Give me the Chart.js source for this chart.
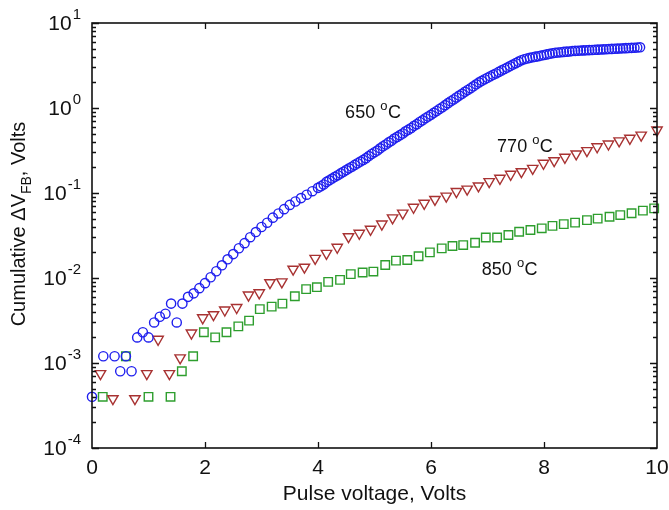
<!DOCTYPE html>
<html>
<head>
<meta charset="utf-8">
<script src="https://cdn.jsdelivr.net/npm/chart.js@4.4.1/dist/chart.umd.min.js"></script>
<style>
  html, body { margin: 0; padding: 0; background: #fff; }
  #wrap { width: 669px; height: 510px; position: relative; }
</style>
</head>
<body>
<div id="wrap"><canvas id="chart"></canvas></div>
<script>
'use strict';

// 650 C series (blue circles)
var blueX = [0, 0.2, 0.4, 0.5, 0.6, 0.7, 0.8, 0.9, 1.0, 1.1, 1.2, 1.3, 1.4, 1.5, 1.6, 1.7, 1.8, 1.9, 2.0,
    2.1, 2.2, 2.3, 2.4, 2.5, 2.6, 2.7, 2.8, 2.9, 3.0, 3.1, 3.2, 3.3, 3.4, 3.5, 3.6, 3.7, 3.8, 3.9, 4.0,
    4.05, 4.1, 4.15, 4.2, 4.25, 4.3, 4.35, 4.4, 4.45, 4.5, 4.55, 4.6, 4.65, 4.7, 4.75, 4.8, 4.85, 4.9, 4.95, 5.0,
    5.05, 5.1, 5.15, 5.2, 5.25, 5.3, 5.35, 5.4, 5.45, 5.5, 5.55, 5.6, 5.65, 5.7, 5.75, 5.8, 5.85, 5.9, 5.95, 6.0,
    6.05, 6.1, 6.15, 6.2, 6.25, 6.3, 6.35, 6.4, 6.45, 6.5, 6.55, 6.6, 6.65, 6.7, 6.75, 6.8, 6.85, 6.9, 6.95, 7.0,
    7.05, 7.1, 7.15, 7.2, 7.25, 7.3, 7.35, 7.4, 7.45, 7.5, 7.55, 7.6, 7.65, 7.7, 7.75, 7.8, 7.85, 7.9, 7.95, 8.0,
    8.05, 8.1, 8.15, 8.2, 8.25, 8.3, 8.35, 8.4, 8.45, 8.5, 8.55, 8.6, 8.65, 8.7, 8.75, 8.8, 8.85, 8.9, 8.95, 9.0,
    9.05, 9.1, 9.15, 9.2, 9.25, 9.3, 9.35, 9.4, 9.45, 9.5, 9.55, 9.6, 9.65, 9.7];
var blueY = [4e-4, 1.2e-3, 1.2e-3, 8e-4, 1.2e-3, 8e-4, 2e-3, 2.3e-3, 2e-3, 3e-3, 3.5e-3, 3.8e-3, 5e-3, 3e-3, 5e-3, 6e-3, 6.6e-3, 7.6e-3, 8.7e-3,
    0.0102, 0.0120, 0.0141, 0.0166, 0.0191, 0.0224, 0.0257, 0.0302, 0.0347, 0.0398, 0.0447, 0.0513, 0.0575, 0.0646, 0.0724, 0.0794, 0.0871, 0.0955, 0.105, 0.115,
    0.120, 0.126, 0.135, 0.141, 0.148, 0.155, 0.162, 0.170, 0.178, 0.186, 0.195, 0.204, 0.214, 0.224, 0.234, 0.245, 0.257, 0.272, 0.288, 0.302,
    0.316, 0.335, 0.355, 0.372, 0.394, 0.412, 0.437, 0.457, 0.479, 0.501, 0.531, 0.556, 0.582, 0.617, 0.646, 0.684, 0.716, 0.759, 0.794, 0.832,
    0.877, 0.923, 0.973, 1.02, 1.08, 1.14, 1.20, 1.26, 1.33, 1.40, 1.47, 1.55, 1.63, 1.71, 1.80, 1.90, 2.00, 2.09, 2.18, 2.27,
    2.36, 2.46, 2.55, 2.66, 2.77, 2.88, 2.99, 3.11, 3.24, 3.37, 3.51, 3.65, 3.75, 3.82, 3.89, 3.95, 4.02, 4.07, 4.14, 4.20,
    4.27, 4.34, 4.40, 4.47, 4.50, 4.53, 4.57, 4.60, 4.63, 4.68, 4.70, 4.72, 4.74, 4.76, 4.78, 4.80, 4.82, 4.84, 4.86, 4.88,
    4.90, 4.92, 4.94, 4.96, 4.98, 5.00, 5.02, 5.04, 5.06, 5.08, 5.10, 5.12, 5.15, 5.18];

// 770 C series (red triangles)
var redX = [0.15, 0.37, 0.76, 0.97, 1.17, 1.37, 1.56, 1.76, 1.96, 2.15, 2.35, 2.56, 2.77, 2.96, 3.15, 3.36, 3.56, 3.76, 3.95, 4.15,
    4.34, 4.54, 4.73, 4.93, 5.13, 5.32, 5.5, 5.69, 5.88, 6.07, 6.27, 6.45, 6.64, 6.84, 7.03, 7.22, 7.41, 7.6, 7.8, 7.99,
    8.18, 8.37, 8.57, 8.76, 8.94, 9.14, 9.33, 9.52, 9.72, 10.0];
var redY = [7.5e-4, 3.8e-4, 3.8e-4, 7.5e-4, 1.9e-3, 7.5e-4, 1.15e-3, 2.25e-3, 3.4e-3, 3.7e-3, 4.2e-3, 4.5e-3, 6.3e-3, 6.7e-3, 8.8e-3, 9.0e-3, 0.0127, 0.0134, 0.017, 0.0195,
    0.023, 0.0306, 0.0336, 0.0374, 0.0431, 0.051, 0.058, 0.068, 0.0757, 0.084, 0.092, 0.104, 0.111, 0.121, 0.136, 0.149, 0.166, 0.178, 0.195, 0.224,
    0.24, 0.263, 0.288, 0.315, 0.35, 0.377, 0.41, 0.44, 0.48, 0.55];

// 850 C series (green squares)
var greenX = [0.19, 0.6, 1.0, 1.39, 1.59, 1.79, 1.98, 2.18, 2.38, 2.59, 2.78, 2.97, 3.18, 3.37, 3.59, 3.79, 3.98, 4.18, 4.39, 4.58,
    4.79, 4.98, 5.19, 5.38, 5.58, 5.78, 5.98, 6.19, 6.38, 6.57, 6.78, 6.97, 7.17, 7.37, 7.56, 7.76, 7.96, 8.15, 8.35, 8.55,
    8.76, 8.95, 9.16, 9.35, 9.55, 9.75, 9.95];
var greenY = [4e-4, 1.2e-3, 4e-4, 4e-4, 8e-4, 1.2e-3, 2.3e-3, 2.0e-3, 2.3e-3, 2.7e-3, 3.15e-3, 4.3e-3, 4.6e-3, 5.0e-3, 6.1e-3, 7.4e-3, 7.8e-3, 9.0e-3, 9.5e-3, 0.0111,
    0.0116, 0.0119, 0.0142, 0.016, 0.0163, 0.018, 0.020, 0.0223, 0.0238, 0.0244, 0.026, 0.030, 0.030, 0.032, 0.035, 0.0367, 0.0384, 0.041, 0.043, 0.0448,
    0.048, 0.050, 0.0526, 0.055, 0.0577, 0.062, 0.066];

// axes
var xTicks = [0, 2, 4, 6, 8, 10];
var xTickLabels = ['0', '2', '4', '6', '8', '10'];
var yTicks = [1e-4, 1e-3, 1e-2, 1e-1, 1, 10];
var yTickExps = ['-4', '-3', '-2', '-1', '0', '1'];

// curve labels: [x, y(baseline), number]
var seriesLabels = [
    [4.48, 0.76, '650'],
    [7.17, 0.303, '770'],
    [6.9, 0.0108, '850']
];

var FONT = '"Liberation Sans", Arial, Helvetica, sans-serif';

function toPoints(xs, ys) {
    return xs.map(function (x, i) { return { x: x, y: ys[i] }; });
}

var framePlugin = {
    id: 'frame',
    afterDraw: function (chart) {
        var ctx = chart.ctx;
        var area = chart.chartArea;
        var xs = chart.scales.x;
        var ys = chart.scales.y;
        ctx.save();

        // ticks
        ctx.strokeStyle = '#111';
        ctx.lineWidth = 1.3;
        ctx.beginPath();
        xTicks.forEach(function (v) {
            if (v <= 0 || v >= 10) return;
            var px = Math.round(xs.getPixelForValue(v)) + 0.5;
            ctx.moveTo(px, area.bottom); ctx.lineTo(px, area.bottom - 6);
            ctx.moveTo(px, area.top); ctx.lineTo(px, area.top + 6);
        });
        yTicks.forEach(function (v, i) {
            var py = Math.round(ys.getPixelForValue(v)) + 0.5;
            ctx.moveTo(area.left, py); ctx.lineTo(area.left + 7, py);
            ctx.moveTo(area.right, py); ctx.lineTo(area.right - 7, py);
            if (i < yTicks.length - 1) {
                for (var k = 2; k <= 9; k++) {
                    var pm = Math.round(ys.getPixelForValue(v * k)) + 0.5;
                    ctx.moveTo(area.left, pm); ctx.lineTo(area.left + 4, pm);
                    ctx.moveTo(area.right, pm); ctx.lineTo(area.right - 4, pm);
                }
            }
        });
        ctx.stroke();

        // frame
        ctx.lineWidth = 1.6;
        ctx.strokeRect(area.left, area.top, area.right - area.left, area.bottom - area.top);

        ctx.fillStyle = '#111';

        // x tick labels
        ctx.font = '21px ' + FONT;
        ctx.textAlign = 'center';
        ctx.textBaseline = 'middle';
        xTicks.forEach(function (v, i) {
            ctx.fillText(xTickLabels[i], xs.getPixelForValue(v), area.bottom + 20);
        });

        // y tick labels: 10 with superscript
        yTicks.forEach(function (v, i) {
            var py = ys.getPixelForValue(v);
            ctx.font = '15px ' + FONT;
            var we = ctx.measureText(yTickExps[i]).width;
            ctx.textAlign = 'right';
            ctx.textBaseline = 'middle';
            ctx.fillText(yTickExps[i], area.left - 11, py - 8);
            ctx.font = '21px ' + FONT;
            ctx.fillText('10', area.left - 12 - we, py + 1);
        });

        // x title
        ctx.font = '21px ' + FONT;
        ctx.textAlign = 'center';
        ctx.textBaseline = 'middle';
        ctx.fillText('Pulse voltage, Volts', (area.left + area.right) / 2, area.bottom + 46);

        // y title with subscript
        ctx.save();
        ctx.translate(25, 224);
        ctx.rotate(-Math.PI / 2);
        ctx.textAlign = 'left';
        ctx.textBaseline = 'alphabetic';
        var p1 = 'Cumulative \u0394V', p2 = 'FB', p3 = ', Volts';
        ctx.font = '20px ' + FONT;
        var w1 = ctx.measureText(p1).width;
        ctx.font = '14px ' + FONT;
        var w2 = ctx.measureText(p2).width;
        ctx.font = '20px ' + FONT;
        var w3 = ctx.measureText(p3).width;
        var sx = -(w1 + w2 + w3) / 2;
        ctx.fillText(p1, sx, 0);
        ctx.font = '14px ' + FONT;
        ctx.fillText(p2, sx + w1, 6);
        ctx.font = '20px ' + FONT;
        ctx.fillText(p3, sx + w1 + w2, 0);
        ctx.restore();

        // series labels with degree sign as superscript o
        seriesLabels.forEach(function (l) {
            var lx = xs.getPixelForValue(l[0]);
            var ly = ys.getPixelForValue(l[1]);
            ctx.textAlign = 'left';
            ctx.textBaseline = 'alphabetic';
            ctx.font = '18px ' + FONT;
            var t = l[2] + ' ';
            ctx.fillText(t, lx, ly);
            var w = ctx.measureText(t).width;
            ctx.font = '13px ' + FONT;
            ctx.fillText('o', lx + w, ly - 8);
            var wo = ctx.measureText('o').width;
            ctx.font = '18px ' + FONT;
            ctx.fillText('C', lx + w + wo + 0.5, ly);
        });

        ctx.restore();
    }
};

var ctx = document.getElementById('chart');

var chart = new Chart(ctx, {
    type: 'scatter',
    data: {
        datasets: [
            {
                label: '650 C',
                data: toPoints(blueX, blueY),
                pointStyle: 'circle',
                pointRadius: 4.6,
                borderWidth: 1.4,
                borderColor: '#1f1fee',
                backgroundColor: 'rgba(0,0,0,0)',
                clip: false
            },
            {
                label: '770 C',
                data: toPoints(redX, redY),
                pointStyle: 'triangle',
                rotation: 180,
                pointRadius: 6,
                borderWidth: 1.4,
                borderColor: '#a83232',
                backgroundColor: 'rgba(0,0,0,0)',
                clip: false
            },
            {
                label: '850 C',
                data: toPoints(greenX, greenY),
                pointStyle: 'rect',
                pointRadius: 6,
                borderWidth: 1.4,
                borderColor: '#2e9e2e',
                backgroundColor: 'rgba(0,0,0,0)',
                clip: false
            }
        ]
    },
    options: {
        responsive: true,
        maintainAspectRatio: false,
        animation: false,
        layout: { padding: { left: 92, top: 23, right: 12, bottom: 62 } },
        scales: {
            x: { type: 'linear', min: 0, max: 10, display: false },
            y: { type: 'logarithmic', min: 1e-4, max: 10, display: false }
        },
        plugins: {
            legend: { display: false },
            tooltip: { enabled: false }
        }
    },
    plugins: [framePlugin]
});
</script>
</body>
</html>
